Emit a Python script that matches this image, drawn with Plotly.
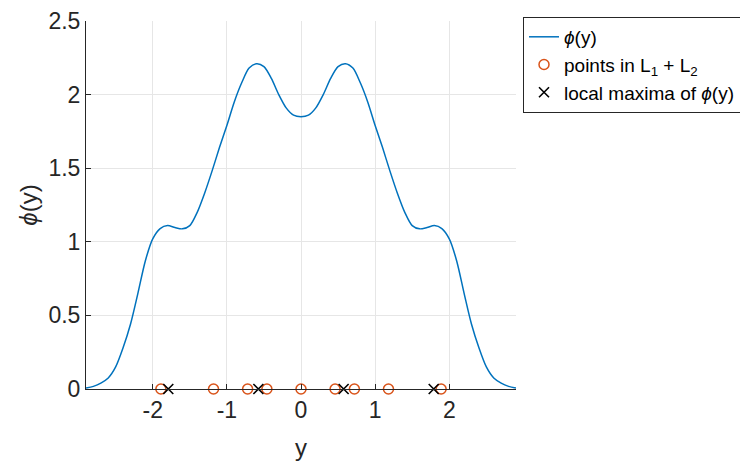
import plotly.graph_objects as go

# curve phi(y)
y_grid = [-2.9, -2.8, -2.7, -2.6, -2.5, -2.4, -2.3, -2.2, -2.1, -2.0, -1.9, -1.8, -1.7, -1.6, -1.5,
          -1.4, -1.3, -1.2, -1.1, -1.0, -0.9, -0.8, -0.7, -0.6, -0.5, -0.4, -0.3, -0.2, -0.1, 0.0,
          0.1, 0.2, 0.3, 0.4, 0.5, 0.6, 0.7, 0.8, 0.9, 1.0, 1.1, 1.2, 1.3, 1.4, 1.5,
          1.6, 1.7, 1.8, 1.9, 2.0, 2.1, 2.2, 2.3, 2.4, 2.5, 2.6, 2.7, 2.8, 2.9]
phi_vals = [0.006, 0.018, 0.04, 0.075, 0.15, 0.28, 0.44, 0.65, 0.87, 1.02, 1.09, 1.11, 1.097, 1.088, 1.11,
            1.2, 1.33, 1.48, 1.64, 1.79, 1.95, 2.08, 2.18, 2.21, 2.19, 2.11, 2.0, 1.91, 1.86, 1.85,
            1.86, 1.91, 2.0, 2.11, 2.19, 2.21, 2.18, 2.08, 1.95, 1.79, 1.64, 1.48, 1.33, 1.2, 1.11,
            1.088, 1.097, 1.11, 1.09, 1.02, 0.87, 0.65, 0.44, 0.28, 0.15, 0.075, 0.04, 0.018, 0.006]

# points in L1 + L2
pts_x = [-1.89, -1.18, -0.72, -0.46, 0.0, 0.46, 0.72, 1.18, 1.89]
pts_y = [0, 0, 0, 0, 0, 0, 0, 0, 0]

# local maxima of phi(y)
max_x = [-1.79, -0.575, 0.575, 1.79]
max_y = [0, 0, 0, 0]

x_ticks = [-2, -1, 0, 1, 2]
y_ticks = [0, 0.5, 1, 1.5, 2, 2.5]
y_tick_text = ["0", "0.5", "1", "1.5", "2", "2.5"]

FONT = "Liberation Sans, Arial, sans-serif"
TXT = "#262626"

fig = go.Figure()
fig.add_trace(go.Scatter(x=y_grid, y=phi_vals, mode="lines",
                         line=dict(color="#0072BD", width=1.5, shape="spline", smoothing=0.8),
                         name="<i>ϕ</i>(y)"))
fig.add_trace(go.Scatter(x=pts_x, y=pts_y, mode="markers",
                         marker=dict(symbol="circle-open", color="#D95319", size=10,
                                     line=dict(width=1.5, color="#D95319")),
                         name="points in L<sub>1</sub> + L<sub>2</sub>", cliponaxis=False))
fig.add_trace(go.Scatter(x=max_x, y=max_y, mode="markers",
                         marker=dict(symbol="x-thin-open", color="black", size=10,
                                     line=dict(width=1.6, color="black")),
                         name="local maxima of <i>ϕ</i>(y)", cliponaxis=False))

fig.update_layout(
    width=740, height=457,
    margin=dict(l=78, r=232, t=13, b=76, autoexpand=False),
    paper_bgcolor="white", plot_bgcolor="white",
    font=dict(family=FONT, color=TXT, size=19),
    showlegend=True,
    legend=dict(x=1.0163, y=1.011, xanchor="left", yanchor="top",
                bordercolor="#262626", borderwidth=1, bgcolor="white",
                font=dict(size=19, color="black", family=FONT), itemwidth=30,
                tracegroupgap=0),
    xaxis=dict(range=[-2.9, 2.9], tickvals=x_ticks, ticktext=[str(v) for v in x_ticks],
               showgrid=True, gridcolor="#E6E6E6", gridwidth=1, zeroline=False,
               showline=True, linecolor="#262626", linewidth=1,
               ticks="inside", ticklen=5, tickcolor="#262626", automargin=False,
               tickfont=dict(size=23, color=TXT, family=FONT),
               title=dict(text="y", font=dict(size=24, color=TXT, family=FONT), standoff=17)),
    yaxis=dict(range=[0, 2.5], tickvals=y_ticks, ticktext=y_tick_text,
               showgrid=True, gridcolor="#E6E6E6", gridwidth=1, zeroline=False,
               showline=True, linecolor="#262626", linewidth=1,
               ticks="inside", ticklen=5, tickcolor="#262626", automargin=False,
               tickfont=dict(size=23, color=TXT, family=FONT),
               title=dict(text="<i>ϕ</i>(y)", font=dict(size=24, color=TXT, family=FONT), standoff=4)),
)

fig.write_html("out.html")
